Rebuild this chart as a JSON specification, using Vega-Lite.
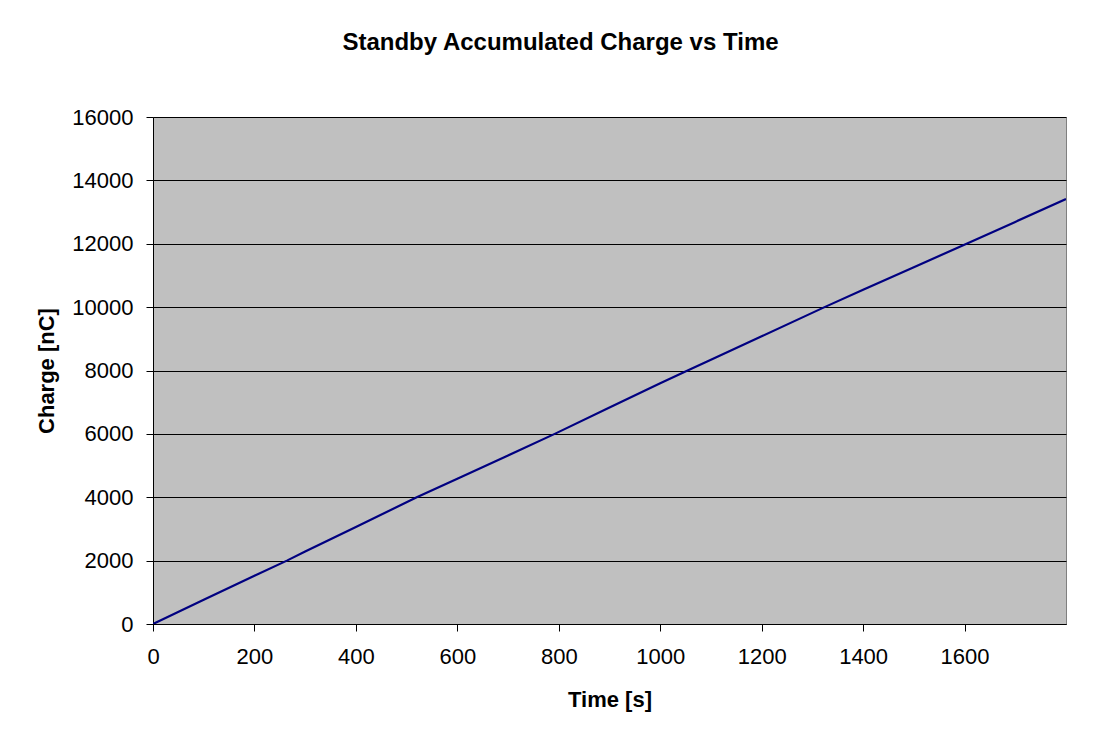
{
  "$schema": "https://vega.github.io/schema/vega-lite/v6.json",
  "autosize": "none",
  "width": 913,
  "height": 507,
  "padding": {"left": 153, "top": 117, "right": 53, "bottom": 116},
  "background": "#ffffff",
  "title": {
    "text": "Standby Accumulated Charge vs Time",
    "font": "Liberation Sans",
    "fontSize": 24,
    "fontWeight": "bold",
    "color": "#000000",
    "anchor": "middle",
    "dx": -49,
    "offset": 51
  },
  "config": {
    "view": {"fill": "#c0c0c0", "stroke": "#808080", "strokeWidth": 1},
    "axis": {
      "labelFont": "Liberation Sans",
      "labelFontSize": 22,
      "labelColor": "#000000",
      "titleFont": "Liberation Sans",
      "titleFontSize": 22,
      "titleFontWeight": "bold",
      "titleColor": "#000000",
      "domainColor": "#000000",
      "tickColor": "#000000",
      "tickSize": 7,
      "gridColor": "#000000",
      "gridWidth": 1
    }
  },
  "data": {
    "values": [
      {"time": 0, "charge": 0},
      {"time": 100, "charge": 765},
      {"time": 200, "charge": 1525},
      {"time": 264, "charge": 2000},
      {"time": 300, "charge": 2290},
      {"time": 400, "charge": 3060},
      {"time": 520, "charge": 4000},
      {"time": 600, "charge": 4580},
      {"time": 700, "charge": 5320},
      {"time": 792, "charge": 6000},
      {"time": 900, "charge": 6830},
      {"time": 1000, "charge": 7600},
      {"time": 1054, "charge": 8000},
      {"time": 1100, "charge": 8340},
      {"time": 1200, "charge": 9080},
      {"time": 1324, "charge": 10000},
      {"time": 1400, "charge": 10550},
      {"time": 1500, "charge": 11260},
      {"time": 1604, "charge": 12000},
      {"time": 1700, "charge": 12690},
      {"time": 1800, "charge": 13410}
    ]
  },
  "mark": {"type": "line", "color": "#000080", "strokeWidth": 2.2, "clip": true},
  "encoding": {
    "x": {
      "field": "time",
      "type": "quantitative",
      "title": "Time [s]",
      "scale": {"domain": [0, 1800], "nice": false, "zero": true},
      "axis": {
        "values": [0, 200, 400, 600, 800, 1000, 1200, 1400, 1600],
        "grid": false,
        "format": "d",
        "labelPadding": 15,
        "titlePadding": 22,
        "labelFlush": false
      }
    },
    "y": {
      "field": "charge",
      "type": "quantitative",
      "title": "Charge [nC]",
      "scale": {"domain": [0, 16000], "nice": false},
      "axis": {
        "values": [0, 2000, 4000, 6000, 8000, 10000, 12000, 14000, 16000],
        "grid": true,
        "labelPadding": 13,
        "titlePadding": 13,
        "format": "d",
        "labelFlush": false
      }
    }
  }
}
